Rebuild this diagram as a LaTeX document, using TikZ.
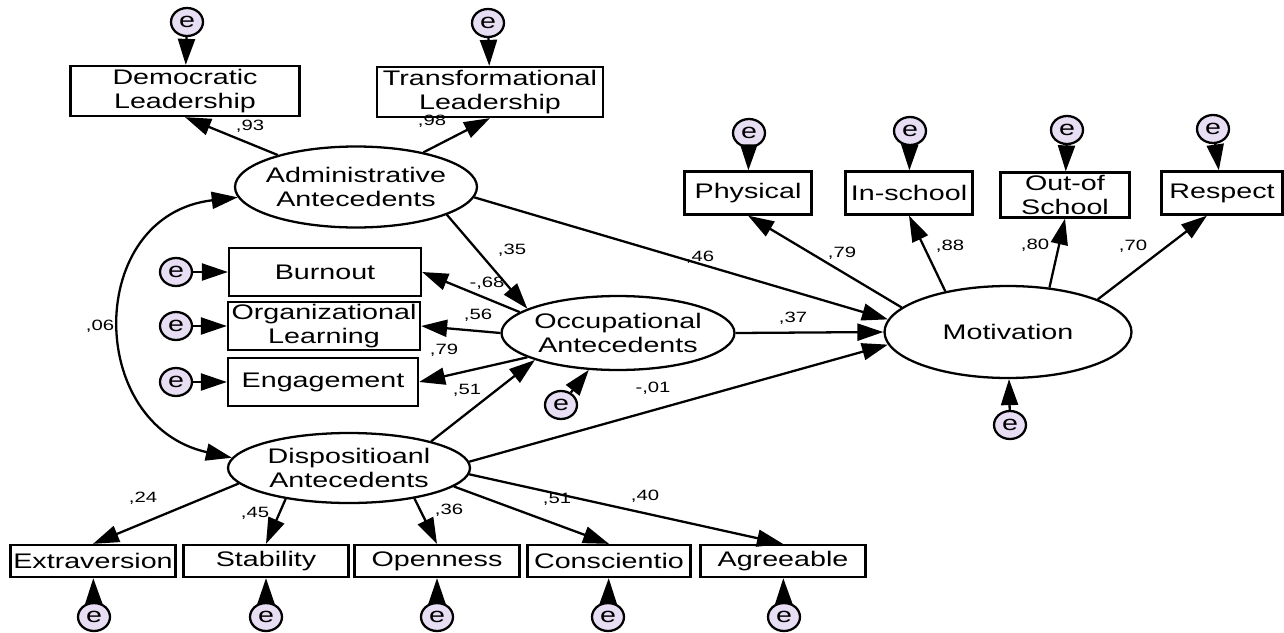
\documentclass[tikz,border=0pt]{standalone}
\usepackage{fontspec}
\setmainfont{Liberation Sans}[FakeStretch=1.36]
\usetikzlibrary{shapes.geometric,arrows.meta}
\definecolor{errfill}{RGB}{232,222,244}

\begin{document}
\begin{tikzpicture}[
    x=0.02cm, y=-0.02cm,
    obs/.style={
        draw,
        line width=1.3pt,
        inner sep=1pt,
        align=center,
        font=\fontsize{12}{13.6}\selectfont
    },
    lat/.style={
        draw,
        ellipse,
        line width=1.3pt,
        inner sep=0pt,
        align=center,
        font=\fontsize{12}{13.6}\selectfont
    },
    err/.style={
        draw,
        ellipse,
        fill=errfill,
        line width=1.3pt,
        inner sep=0pt,
        minimum width=0.64cm,
        minimum height=0.56cm,
        font=\fontsize{12}{13}\selectfont
    },
    coef/.style={
        inner sep=0pt,
        font=\fontsize{8.5}{10}\selectfont
    },
    arr/.style={
        -{Triangle[length=0.52cm,width=0.34cm]},
        line width=1.3pt
    },
    dblarr/.style={
        {Triangle[length=0.52cm,width=0.34cm]}-{Triangle[length=0.52cm,width=0.34cm]},
        line width=1.3pt
    }
]
\useasboundingbox[fill=white] (0,0) rectangle (1284,632);

% latent variables
\node[lat, minimum width=4.84cm, minimum height=1.62cm] (adm) at (356,187) {\makebox[0pt]{Administrative}\\\makebox[0pt]{Antecedents}};
\node[lat, minimum width=4.66cm, minimum height=1.48cm] (occ) at (618,333) {\makebox[0pt]{Occupational}\\\makebox[0pt]{Antecedents}};
\node[lat, minimum width=4.84cm, minimum height=1.4cm] (disp) at (349,468) {\makebox[0pt]{Dispositioanl}\\\makebox[0pt]{Antecedents}};
\node[lat, minimum width=4.94cm, minimum height=1.84cm] (mot) at (1008,332) {Motivation};

% leadership indicators
\node[obs, minimum width=4.58cm, minimum height=1cm] (dem) at (185,91) {Democratic\\Leadership};
\node[obs, minimum width=4.52cm, minimum height=1cm] (tra) at (490,92) {Transformational\\Leadership};
\node[err] (edem) at (187,22) {e};
\node[err] (etra) at (488,23) {e};

% occupational indicators
\node[obs, minimum width=3.84cm, minimum height=0.96cm] (bur) at (325,272) {Burnout};
\node[obs, minimum width=3.84cm, minimum height=0.96cm] (org) at (324,326) {Organizational\\Learning};
\node[obs, minimum width=3.80cm, minimum height=0.96cm] (eng) at (323,382) {Engagement};
\node[err] (ebur) at (176,272) {e};
\node[err] (eorg) at (176,326) {e};
\node[err] (eeng) at (176,382) {e};
\node[err] (eocc) at (561,405) {e};

% motivation indicators
\node[obs, minimum width=2.54cm, minimum height=0.86cm] (phy) at (748,193) {Physical};
\node[obs, minimum width=2.54cm, minimum height=0.86cm] (ins) at (909,193) {In-school};
\node[obs, minimum width=2.58cm, minimum height=0.9cm] (out) at (1065,195) {Out-of\\School};
\node[obs, minimum width=2.42cm, minimum height=0.86cm] (res) at (1222,193) {Respect};
\node[err] (ephy) at (749,133) {e};
\node[err] (eins) at (910,131) {e};
\node[err] (eout) at (1067,130) {e};
\node[err] (eres) at (1213,129) {e};
\node[err] (emot) at (1010,425) {e};

% personality indicators
\node[obs, minimum width=3.3cm, minimum height=0.64cm] (ext) at (93,561) {Extraversion};
\node[obs, minimum width=3.3cm, minimum height=0.64cm] (sta) at (266,561) {Stability};
\node[obs, minimum width=3.3cm, minimum height=0.64cm] (ope) at (437,561) {Openness};
\node[obs, minimum width=3.26cm, minimum height=0.64cm] (con) at (609,561) {Conscientio};
\node[obs, minimum width=3.3cm, minimum height=0.64cm] (agr) at (783,561) {Agreeable};
\node[err] (eext) at (94,617) {e};
\node[err] (esta) at (266,617) {e};
\node[err] (eope) at (437,617) {e};
\node[err] (econ) at (608,617) {e};
\node[err] (eagr) at (784,617) {e};

% error terms
\draw[arr] (edem) -- (dem);
\draw[arr] (etra) -- (tra);
\draw[arr] (ebur) -- (bur);
\draw[arr] (eorg) -- (org);
\draw[arr] (eeng) -- (eng);
\draw[arr] (eocc) -- (occ);
\draw[arr] (ephy) -- (phy);
\draw[arr] (eins) -- (ins);
\draw[arr] (eout) -- (out);
\draw[arr] (eres) -- (res);
\draw[arr] (emot) -- (mot);
\draw[arr] (eext) -- (ext);
\draw[arr] (esta) -- (sta);
\draw[arr] (eope) -- (ope);
\draw[arr] (econ) -- (con);
\draw[arr] (eagr) -- (agr);

% loadings and paths
\draw[arr] (adm) -- (dem.south);
\draw[arr] (adm) -- (tra.south);
\draw[arr] (adm.-17) -- (occ.165);
\draw[arr] (adm.-5) -- (mot.174);
\draw[arr] (occ.168) -- (bur.east);
\draw[arr] (occ.west) -- (org.east);
\draw[arr] (occ.195) -- (eng.east);
\draw[arr] (disp.18) -- (occ.198);
\draw[arr] (occ.east) -- (mot.west);
\draw[arr] (disp.3) -- (mot.186);
\draw[arr] (mot.167) -- (phy.south);
\draw[arr] (mot.147) -- (ins.south);
\draw[arr] (mot.47) -- (out.south);
\draw[arr] (mot.20) -- ([xshift=-0.3cm]res.south);
\draw[arr] (disp.188) -- (ext.north);
\draw[arr] (disp.206) -- (sta.north);
\draw[arr] (disp.-25) -- (ope.north);
\draw[arr] (disp.-10) -- (con.north);
\draw[arr] (disp.-3) -- (agr.north);
\draw[dblarr] (adm.185) .. controls (85,215) and (85,425) .. (disp.175);

% coefficients
\node[coef] (c93) at (250,126) {,93};
\node[coef] (c98) at (432,121) {,98};
\node[coef] (c35) at (512,250) {,35};
\node[coef] (c46) at (700,257) {,46};
\node[coef] (c68) at (487,283) {-,68};
\node[coef] (c56) at (478,315) {,56};
\node[coef] (c79a) at (444,350) {,79};
\node[coef] (c51a) at (467,390) {,51};
\node[coef] (c37) at (793,318) {,37};
\node[coef] (c01) at (653,388) {-,01};
\node[coef] (c79b) at (842,253) {,79};
\node[coef] (c88) at (950,246) {,88};
\node[coef] (c80) at (1035,245) {,80};
\node[coef] (c70) at (1133,246) {,70};
\node[coef] (c06) at (100,326) {,06};
\node[coef] (c24) at (143,498) {,24};
\node[coef] (c45) at (255,513) {,45};
\node[coef] (c36) at (449,510) {,36};
\node[coef] (c51b) at (557,499) {,51};
\node[coef] (c40) at (645,496) {,40};

\end{tikzpicture}
\end{document}
